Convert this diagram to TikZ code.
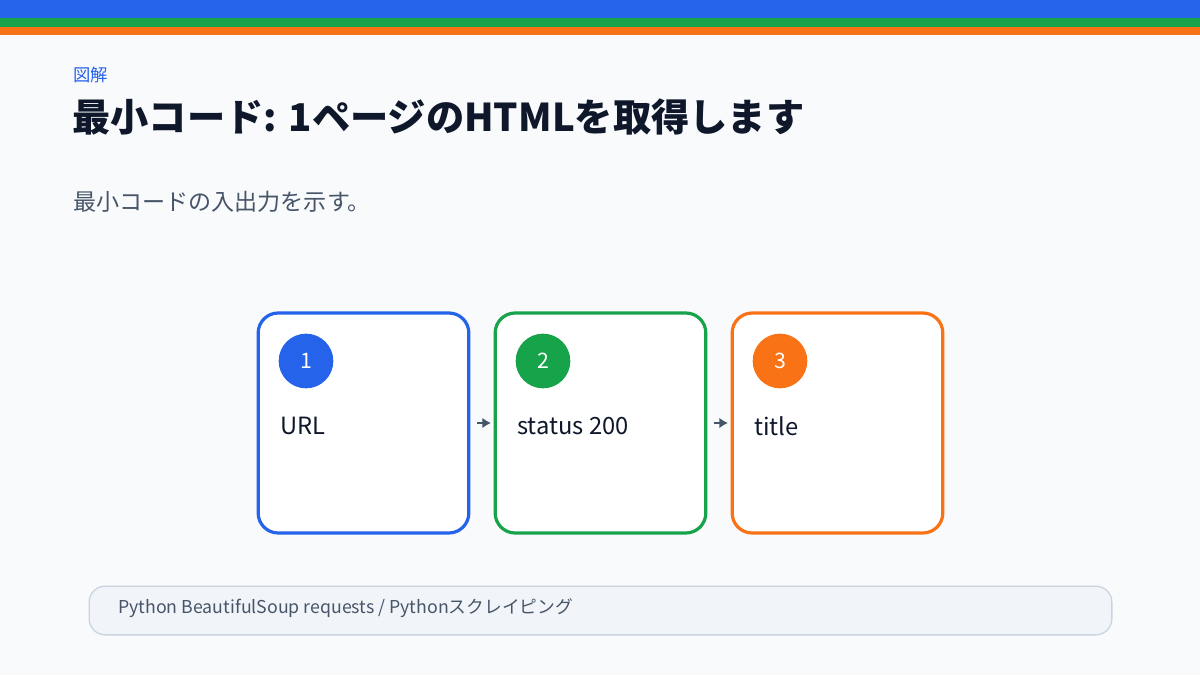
\documentclass[tikz,border=0pt]{standalone}
\usepackage{fontspec}
\usetikzlibrary{arrows.meta}
\setmainfont{Noto Sans CJK JP}
\definecolor{bg}{HTML}{F8FAFC}
\definecolor{cblue}{HTML}{2563EB}
\definecolor{cgreen}{HTML}{16A34A}
\definecolor{corange}{HTML}{F97316}
\definecolor{ink}{HTML}{0F172A}
\definecolor{muted}{HTML}{475569}
\definecolor{foot}{HTML}{F1F5F9}
\definecolor{footline}{HTML}{CBD5E1}
\begin{document}
\begin{tikzpicture}[x=0.75pt,y=-0.75pt,
  card/.style={draw=#1,line width=2.4pt,fill=white,rounded corners=15pt,minimum width=158pt,minimum height=165pt,inner sep=0pt},
  badge/.style={circle,fill=#1,minimum size=41pt,inner sep=0pt,text=white,font=\fontsize{16}{19}\selectfont},
  lbl/.style={anchor=west,text=ink,font=\fontsize{17.8}{21}\selectfont,inner sep=0pt},
  conn/.style={draw=muted,line width=2pt,-{Latex[length=6.5pt,width=8pt]}}]
\useasboundingbox (0,0) rectangle (1200,675);
\fill[bg] (0,0) rectangle (1200,675);
\fill[cblue] (0,0) rectangle (1200,18);
\fill[cgreen] (0,18) rectangle (1200,27);
\fill[corange] (0,27) rectangle (1200,35);
\node[anchor=west,inner sep=0pt,text=cblue,font=\fontsize{13}{15}\selectfont] (kicker) at (73,75) {図解};
\node[anchor=west,inner sep=0pt,text=ink,font=\fontsize{28.7}{33}\selectfont\bfseries] (title) at (72,117) {最小コード: 1ページのHTMLを取得します};
\node[anchor=west,inner sep=0pt,text=muted,font=\fontsize{17.3}{20}\selectfont] (sub) at (73,202) {最小コードの入出力を示す。};
\node[card=cblue] (c1) at (363.5,423) {};
\node[card=cgreen] (c2) at (600.5,423) {};
\node[card=corange] (c3) at (837.5,423) {};
\node[badge=cblue] (b1) at (306,361) {1};
\node[badge=cgreen] (b2) at (543,361) {2};
\node[badge=corange] (b3) at (780,361) {3};
\node[lbl] (t1) at (280,426) {URL};
\node[lbl] (t2) at (517,426) {status 200};
\node[lbl] (t3) at (754,426) {title};
\coordinate (a1s) at (477,423);
\coordinate (a1e) at (491,423);
\coordinate (a2s) at (714,423);
\coordinate (a2e) at (728,423);
\draw[conn] (a1s) -- (a1e);
\draw[conn] (a2s) -- (a2e);
\node[draw=footline,line width=1pt,fill=foot,rounded corners=12pt,minimum width=767pt,minimum height=36.5pt,inner sep=0pt] (fbox) at (600.5,610.5) {};
\node[anchor=west,inner sep=0pt,text=muted,font=\fontsize{13.3}{16}\selectfont] (ftxt) at (118,608) {Python BeautifulSoup requests / Pythonスクレイピング};
\end{tikzpicture}
\end{document}
